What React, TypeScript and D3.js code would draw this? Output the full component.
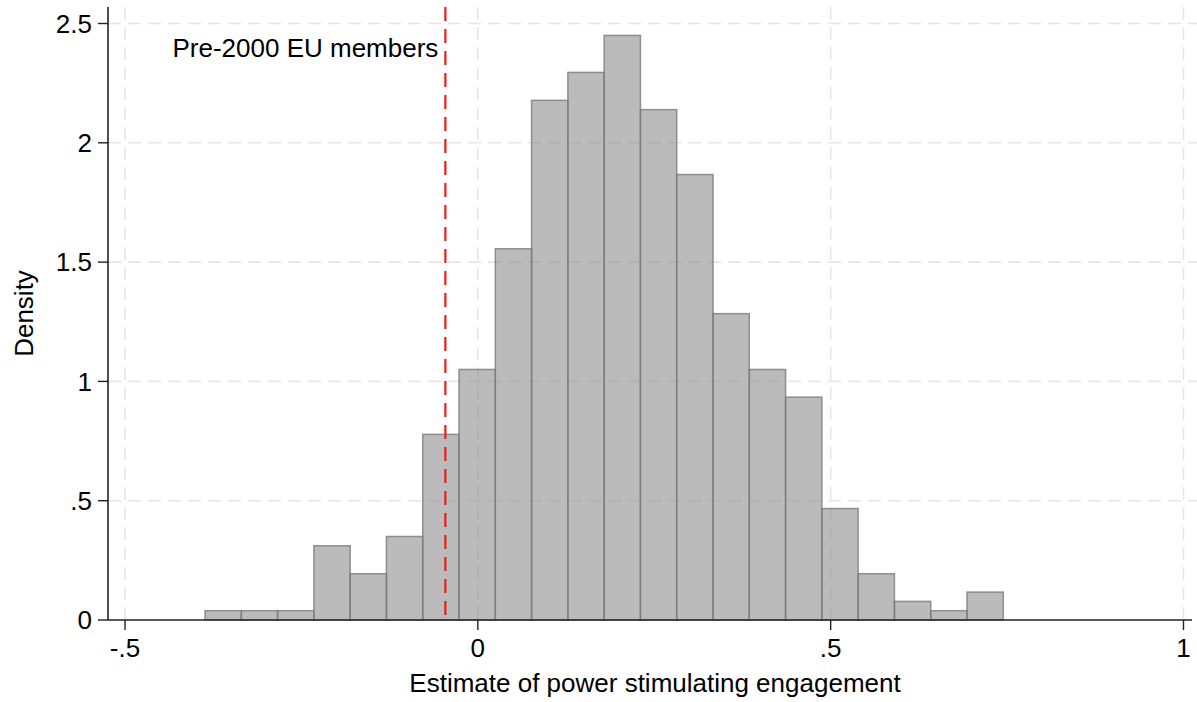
import React from "react";
import * as d3 from "d3";

// Histogram data (density)
const binStart = -0.3866;
const binWidth = 0.05142;
const densities = [
  0.039, 0.039, 0.039, 0.311, 0.194, 0.35, 0.778, 1.05, 1.556, 2.178, 2.295,
  2.45, 2.139, 1.867, 1.284, 1.05, 0.934, 0.467, 0.194, 0.078, 0.039, 0.117,
];
const xTicks = [-0.5, 0, 0.5, 1];
const xTickLabels = ["-.5", "0", ".5", "1"];
const yTicks = [0, 0.5, 1, 1.5, 2, 2.5];
const yTickLabels = ["0", ".5", "1", "1.5", "2", "2.5"];
const refLineX = -0.046;
const refLabel = "Pre-2000 EU members";
const xTitle = "Estimate of power stimulating engagement";
const yTitle = "Density";

const W = 1197;
const H = 702;
const plotLeft = 108;
const plotRight = 1192;
const plotTop = 7;
const plotBottom = 620;
const FONT = "'Liberation Sans', Arial, Helvetica, sans-serif";
const FS = 26;

export default function App() {
  const x = d3.scaleLinear().domain([-0.5, 1]).range([125, 1183.5]);
  const y = d3.scaleLinear().domain([0, 2.5]).range([620, 23.5]);

  const bins = densities.map((d, i) => ({
    x0: binStart + i * binWidth,
    x1: binStart + (i + 1) * binWidth,
    d,
  }));

  return (
    <svg
      width={W}
      height={H}
      style={{ position: "absolute", left: 0, top: 0, background: "#fff" }}
      fontFamily={FONT}
    >
      {/* gridlines */}
      <g stroke="#e6e6e6" strokeWidth={1.6} strokeDasharray="13 7">
        {yTicks
          .filter((t) => t > 0)
          .map((t) => (
            <line key={"gy" + t} x1={plotLeft} x2={W} y1={y(t)} y2={y(t)} />
          ))}
        {xTicks.map((t) => (
          <line key={"gx" + t} x1={x(t)} x2={x(t)} y1={plotTop} y2={plotBottom} />
        ))}
      </g>

      {/* bars */}
      <g>
        {bins.map((b, i) => (
          <rect
            key={i}
            x={x(b.x0)}
            y={y(b.d)}
            width={x(b.x1) - x(b.x0)}
            height={y(0) - y(b.d)}
            fill="#8a8a8a"
            fillOpacity={0.58}
            stroke="#7a7a7a"
            strokeOpacity={0.8}
            strokeWidth={1.5}
          />
        ))}
      </g>

      {/* reference line */}
      <line
        x1={x(refLineX)}
        x2={x(refLineX)}
        y1={plotTop}
        y2={plotBottom}
        stroke="#ee1c1c"
        strokeWidth={2.2}
        strokeDasharray="14 8"
      />
      <text
        x={x(refLineX) - 7}
        y={57}
        textAnchor="end"
        fontSize={FS}
        fill="#000"
      >
        {refLabel}
      </text>

      {/* axes */}
      <line x1={plotLeft} x2={plotLeft} y1={plotTop} y2={plotBottom} stroke="#222" strokeWidth={1.6} />
      <line x1={plotLeft} x2={plotRight} y1={plotBottom} y2={plotBottom} stroke="#222" strokeWidth={1.6} />

      {yTicks.map((t, i) => (
        <g key={"yt" + t}>
          <line x1={plotLeft - 10} x2={plotLeft} y1={y(t)} y2={y(t)} stroke="#222" strokeWidth={1.4} />
          <text x={plotLeft - 16} y={y(t)} dy="0.36em" textAnchor="end" fontSize={FS} fill="#000">
            {yTickLabels[i]}
          </text>
        </g>
      ))}
      {xTicks.map((t, i) => (
        <g key={"xt" + t}>
          <line x1={x(t)} x2={x(t)} y1={plotBottom} y2={plotBottom + 10} stroke="#222" strokeWidth={1.4} />
          <text x={x(t)} y={657} textAnchor="middle" fontSize={FS} fill="#000">
            {xTickLabels[i]}
          </text>
        </g>
      ))}

      <text x={655} y={692} textAnchor="middle" fontSize={FS} fill="#000">
        {xTitle}
      </text>
      <text
        transform={`translate(33, ${(plotTop + plotBottom) / 2}) rotate(-90)`}
        textAnchor="middle"
        fontSize={FS}
        fill="#000"
      >
        {yTitle}
      </text>
    </svg>
  );
}
